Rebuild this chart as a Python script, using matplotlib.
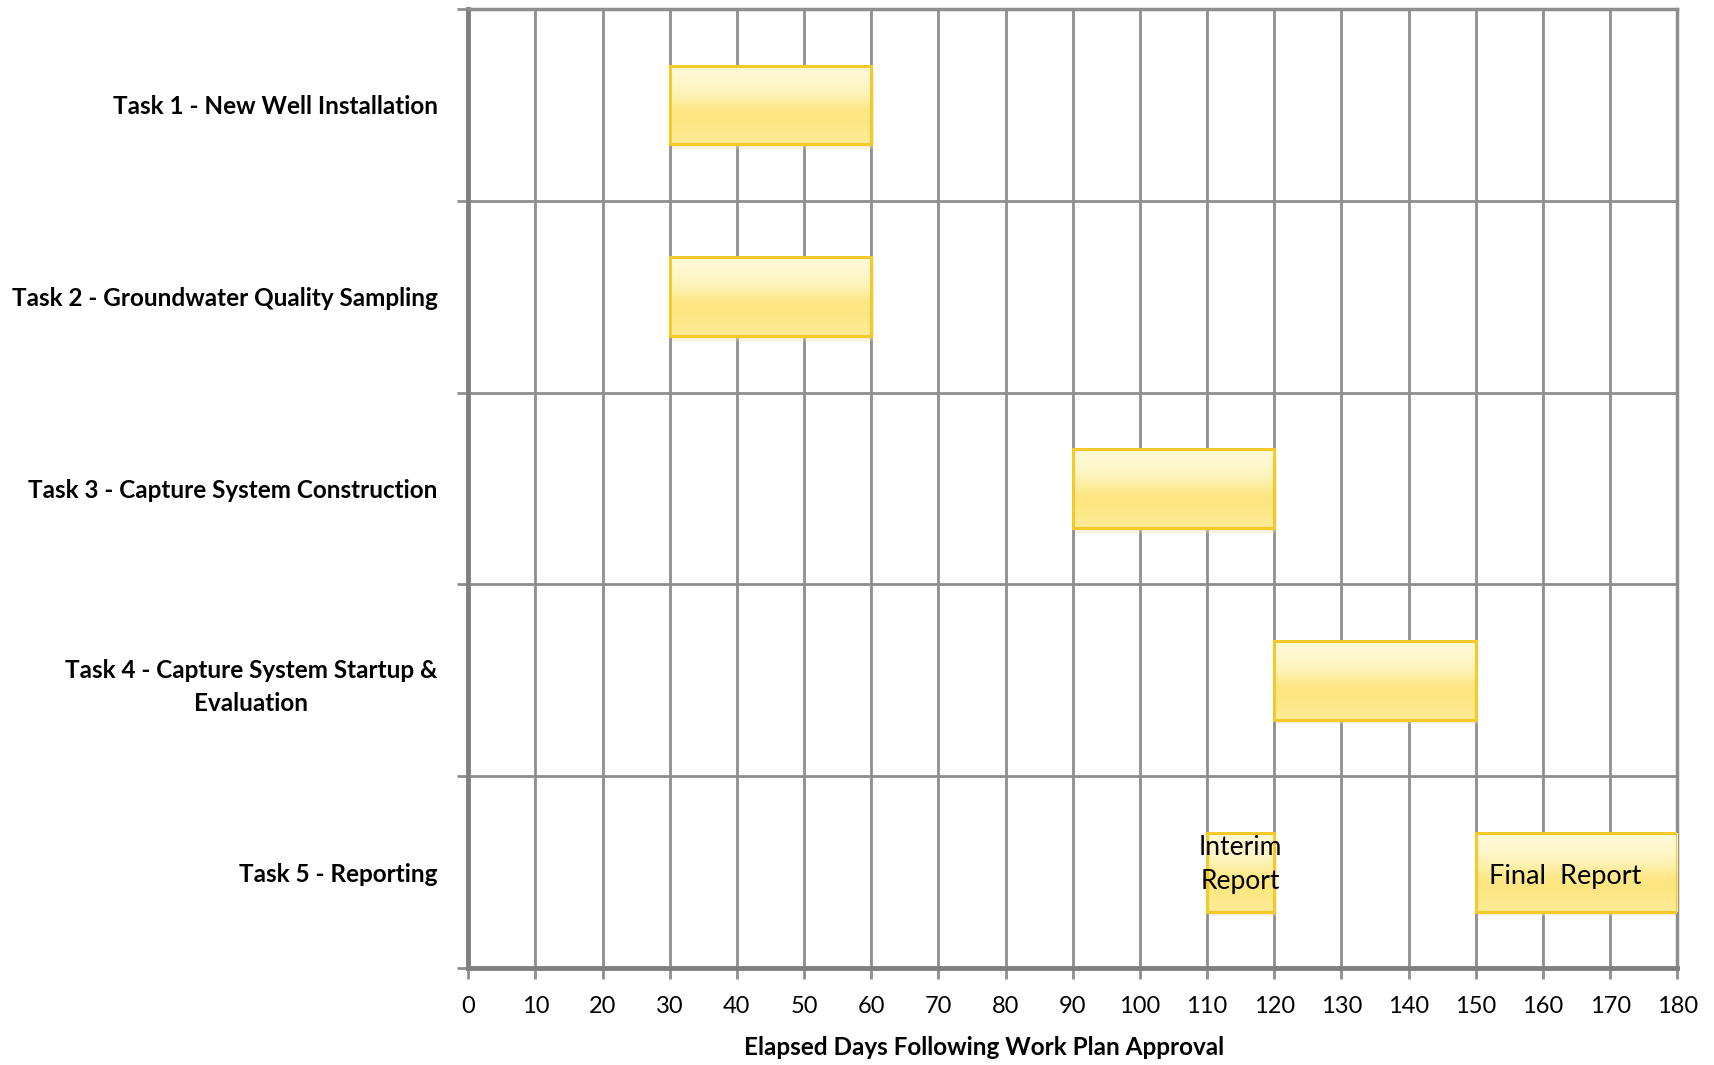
import numpy as np
import matplotlib
matplotlib.use("Agg")
from matplotlib import pyplot as plt

plt.rcParams['font.family'] = ['Lato', 'DejaVu Sans']

tasks = ["Task 1 - New Well Installation",
         "Task 2 - Groundwater Quality Sampling",
         "Task 3 - Capture System Construction",
         "Task 4 - Capture System Startup &\nEvaluation",
         "Task 5 - Reporting"]

# (task index, start day, end day, label)
bar_task = [0, 1, 2, 3, 4, 4]
bar_start = [30, 30, 90, 120, 110, 150]
bar_end = [60, 60, 120, 150, 120, 180]
bar_text = ["", "", "", "", "Interim\nReport", "Final  Report"]

xticks = np.arange(0, 181, 10)

fig = plt.figure(figsize=(17.15, 10.65), dpi=100)
ax = fig.add_axes([0.273, 0.091, 0.705, 0.9005])

grid_col = "#8e8e8e"
n = len(tasks)

# gradient for the glossy bars
grad = np.array([[1.0], [0.85], [0.55], [0.0], [0.05], [0.25]])
cmap = matplotlib.colors.LinearSegmentedColormap.from_list(
    "gloss", ["#fde67e", "#fff9d6"])

bh = 0.41
for t, s, e, lab in zip(bar_task, bar_start, bar_end, bar_text):
    yc = t + 0.5
    # soft shadow
    ax.barh(yc + 0.025, e - s, left=s + 0.4, height=bh, color="#e9dcaa",
            alpha=0.35, zorder=2, linewidth=0)
    ax.imshow(grad, cmap=cmap, aspect="auto", interpolation="bicubic",
              extent=(s, e, yc + bh / 2, yc - bh / 2), zorder=3)
    ax.barh(yc, e - s, left=s, height=bh, facecolor="none",
            edgecolor="#f4c92a", linewidth=2.2, zorder=4)
    if lab.startswith("Interim"):
        ax.text((s + e) / 2, yc - 0.04, lab, ha="center", va="center",
                fontsize=19, zorder=5, linespacing=1.45)
    elif lab:
        ax.text(s + 2, yc + 0.02, lab, ha="left", va="center", fontsize=19.5,
                zorder=5)

ax.set_xlim(0, 180)
ax.set_ylim(n, 0)

ax.set_xticks(xticks)
ax.set_xticklabels([str(v) for v in xticks], fontsize=17)
ax.set_yticks(np.arange(0, n + 1))
ax.set_yticklabels([])
ax.set_yticks(np.arange(n) + 0.5, minor=True)
ax.set_yticklabels(tasks, minor=True, fontsize=17.5, fontweight="bold",
                   multialignment="center", linespacing=1.5)
ax.tick_params(axis="y", which="minor", length=0, pad=22)
ax.tick_params(axis="y", which="major", length=8, width=2, color=grid_col,
               direction="out")
ax.tick_params(axis="x", length=8, width=2, color=grid_col, pad=12)

ax.grid(True, which="major", color=grid_col, linewidth=2, zorder=1)
ax.set_axisbelow(True)
for side in ["left", "bottom"]:
    ax.spines[side].set_color("#7f7f7f")
    ax.spines[side].set_linewidth(3.5)
for side in ["top", "right"]:
    ax.spines[side].set_color(grid_col)
    ax.spines[side].set_linewidth(2.5)

ax.set_xlabel("Elapsed Days Following Work Plan Approval", fontsize=17.5,
              fontweight="bold")
ax.xaxis.set_label_coords(0.427, -0.071)

fig.savefig("out.png", dpi=100)
